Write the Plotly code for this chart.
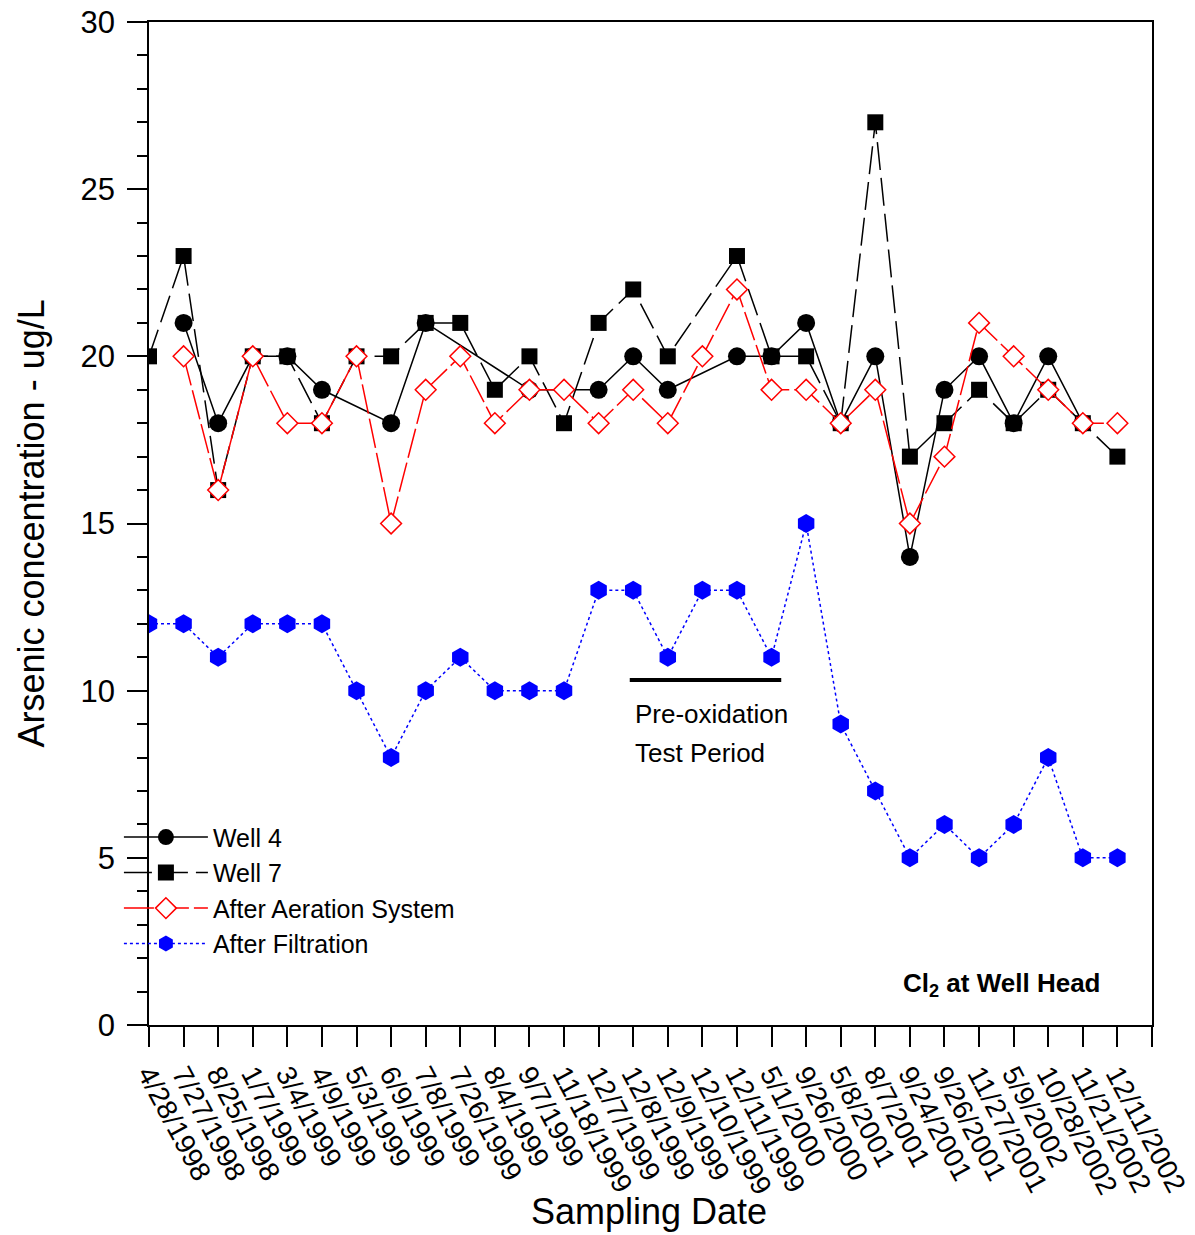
import plotly.graph_objects as go

dates = ["4/28/1998", "7/27/1998", "8/25/1998", "1/7/1999", "3/4/1999", "4/9/1999",
         "5/3/1999", "6/9/1999", "7/8/1999", "7/26/1999", "8/4/1999", "9/7/1999",
         "11/18/1999", "12/7/1999", "12/8/1999", "12/9/1999", "12/10/1999", "12/11/1999",
         "5/1/2000", "9/26/2000", "5/8/2001", "8/7/2001", "9/24/2001", "9/26/2001",
         "11/27/2001", "5/9/2002", "10/28/2002", "11/21/2002", "12/11/2002"]

well4 = [None, 21, 18, 20, 20, 19, None, 18, 21, None, None, 19, None, 19, 20, 19, None,
         20, 20, 21, 18, 20, 14, 19, 20, 18, 20, 18, None]
well7 = [20, 23, 16, 20, 20, 18, 20, 20, 21, 21, 19, 20, 18, 21, 22, 20, None, 23, 20, 20,
         18, 27, 17, 18, 19, 18, 19, 18, 17]
aeration = [None, 20, 16, 20, 18, 18, 20, 15, 19, 20, 18, 19, 19, 18, 19, 18, 20, 22, 19,
            19, 18, 19, 15, 17, 21, 20, 19, 18, 18]
filtration = [12, 12, 11, 12, 12, 12, 10, 8, 10, 11, 10, 10, 10, 13, 13, 11, 13, 13, 11, 15,
              9, 7, 5, 6, 5, 6, 8, 5, 5]

xidx = list(range(len(dates)))
FONT = "Liberation Sans, Arial, Helvetica, sans-serif"

fig = go.Figure()
fig.add_trace(go.Scatter(x=xidx, y=well7, name="Well 7", mode="lines+markers",
                         connectgaps=True, legendrank=2,
                         line=dict(color="black", width=1.5, dash="28px,8px"),
                         marker=dict(symbol="square", size=16, color="black")))
fig.add_trace(go.Scatter(x=xidx, y=well4, name="Well 4", mode="lines+markers",
                         connectgaps=True, legendrank=1,
                         line=dict(color="black", width=1.5),
                         marker=dict(symbol="circle", size=18, color="black")))
fig.add_trace(go.Scatter(x=xidx, y=aeration, name="After Aeration System", mode="lines+markers",
                         connectgaps=True, legendrank=3,
                         line=dict(color="#ff0000", width=1.5, dash="30px,5px"),
                         marker=dict(symbol="diamond", size=16, color="white",
                                     line=dict(color="#ff0000", width=1.5))))
fig.add_trace(go.Scatter(x=xidx, y=filtration, name="After Filtration", mode="lines+markers",
                         legendrank=4,
                         line=dict(color="#0000ff", width=1.5, dash="dot"),
                         marker=dict(symbol="hexagon", size=19, color="#0000ff")))

fig.add_shape(type="line", xref="x", yref="y", x0=13.9, x1=18.28, y0=10.32, y1=10.32,
              line=dict(color="black", width=4))

fig.add_annotation(x=14.0, y=9.3, xref="x", yref="y", text="Pre-oxidation", showarrow=False,
                   xanchor="left", yanchor="middle", font=dict(size=26, color="black", family=FONT))
fig.add_annotation(x=14.0, y=8.14, xref="x", yref="y", text="Test Period", showarrow=False,
                   xanchor="left", yanchor="middle", font=dict(size=26, color="black", family=FONT))
fig.add_annotation(x=27.54, y=1.2, xref="x", yref="y", text="<b>Cl<sub>2</sub> at Well Head</b>",
                   showarrow=False, xanchor="right", yanchor="middle",
                   font=dict(size=26, color="black", family=FONT))

fig.add_annotation(x=0.4985, y=-0.186, xref="paper", yref="paper", text="Sampling Date",
                   showarrow=False, xanchor="center", yanchor="middle",
                   font=dict(size=36, color="black", family=FONT))
fig.add_annotation(x=-0.1176, y=0.5, xref="paper", yref="paper",
                   text="Arsenic concentration - ug/L", textangle=-90,
                   showarrow=False, xanchor="center", yanchor="middle",
                   font=dict(size=36, color="black", family=FONT))

fig.update_xaxes(range=[0, 29], tickmode="array", tickvals=xidx,
                 ticktext=dates, tickangle=62, ticks="outside", ticklen=20,
                 tickwidth=1.5, tickcolor="black", showline=True, linecolor="black",
                 linewidth=1.5, mirror=True, showgrid=False, zeroline=False,
                 ticklabeloverflow="allow",
                 minor=dict(tickmode="array", tickvals=[len(dates)], ticks="outside",
                            ticklen=20, tickwidth=1.5, tickcolor="black", showgrid=False),
                 tickfont=dict(size=28, color="black", family=FONT))
fig.update_yaxes(range=[0, 30], tickmode="linear", tick0=0, dtick=5, ticks="outside",
                 ticklen=20, tickwidth=1.5, tickcolor="black", showline=True,
                 linecolor="black", linewidth=1.5, mirror=True, showgrid=False,
                 zeroline=False, ticklabelstandoff=6, ticklabeloverflow="allow",
                 minor=dict(dtick=1, ticks="outside", ticklen=10, tickwidth=1.5,
                            tickcolor="black", showgrid=False),
                 tickfont=dict(size=31, color="black", family=FONT))

fig.update_layout(width=1195, height=1235, plot_bgcolor="white", paper_bgcolor="white",
                  margin=dict(l=149, r=43, t=22, b=210, autoexpand=False),
                  font=dict(family=FONT, color="black"),
                  showlegend=True,
                  legend=dict(x=-0.03, y=0.21, xanchor="left", yanchor="top",
                              bgcolor="rgba(0,0,0,0)", itemwidth=84,
                              tracegroupgap=0, itemsizing="trace",
                              font=dict(size=25, color="black", family=FONT)))

fig.write_html("out.html", config={"displayModeBar": False},
               post_script="document.body.style.margin='0';document.body.style.overflow='hidden';")
